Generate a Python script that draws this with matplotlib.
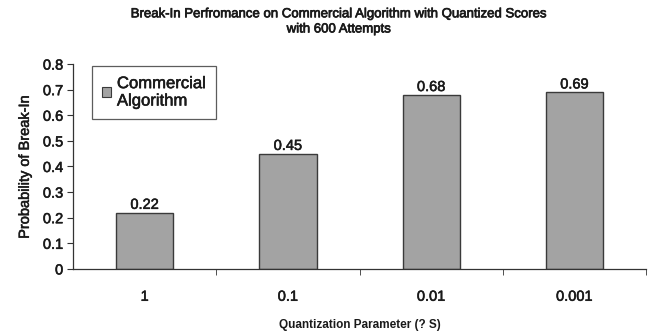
import matplotlib
matplotlib.use("Agg")
import matplotlib.pyplot as plt
import matplotlib.patheffects as pe
from matplotlib.patches import Patch
import numpy as np

categories = ["1", "0.1", "0.01", "0.001"]
values = [0.22, 0.45, 0.68, 0.69]
series_name = "Commercial\nAlgorithm"
yticks = [0, 0.1, 0.2, 0.3, 0.4, 0.5, 0.6, 0.7, 0.8]
ytick_labels = ["0", "0.1", "0.2", "0.3", "0.4", "0.5", "0.6", "0.7", "0.8"]

plt.rcParams["font.family"] = ["Liberation Sans", "DejaVu Sans"]

# slightly heavier strokes for all text
heavy = [pe.withStroke(linewidth=0.4, foreground="#1a1a1a")]
text_color = "#1a1a1a"

fig = plt.figure(figsize=(6.52, 3.32), dpi=100)
ax = fig.add_axes([0.112, 0.19, 0.879, 0.617])

x = np.arange(len(categories))
bar_color = "#a3a3a3"
edge_color = "#3a3a3a"
ax.bar(x, values, width=0.4, color=bar_color, edgecolor=edge_color, linewidth=1.0)

for xi, v in zip(x, values):
    ax.text(xi, v + 0.003, f"{v:.2f}", ha="center", va="bottom", fontsize=10.5,
            color=text_color, path_effects=heavy)

ax.set_xlim(-0.5, len(categories) - 0.5)
ax.set_ylim(0, 0.8)
ax.set_yticks(yticks)
ax.set_yticklabels(ytick_labels, fontsize=10.5, color=text_color, path_effects=heavy)
ax.set_xticks(x)
ax.set_xticklabels(categories, fontsize=10.5, color=text_color, path_effects=heavy)
ax.tick_params(axis="x", which="major", length=0, pad=15)
ax.set_xticks(np.arange(0.5, len(categories), 1.0), minor=True)
ax.tick_params(axis="x", which="minor", length=4, direction="out", color="#333333")
ax.tick_params(axis="y", length=4, direction="out", color="#333333", pad=3)

for s in ["top", "right"]:
    ax.spines[s].set_visible(False)
for s in ["left", "bottom"]:
    ax.spines[s].set_color("#333333")
    ax.spines[s].set_linewidth(0.9)

ax.set_ylabel("Probability of Break-In", fontsize=10.5, labelpad=8,
              color=text_color, path_effects=heavy)
ax.set_xlabel("Quantization Parameter (? S)", fontsize=8.5, fontweight="bold", labelpad=11,
              color=text_color)

fig.suptitle("Break-In Perfromance on Commercial Algorithm with Quantized Scores\nwith 600 Attempts",
             fontsize=9.5, y=0.975, x=0.52, linespacing=1.35, color=text_color,
             path_effects=[pe.withStroke(linewidth=0.5, foreground="#1a1a1a")])

handle = Patch(facecolor=bar_color, edgecolor=edge_color, linewidth=0.8)
leg = ax.legend([handle], [series_name], loc="upper left",
                bbox_to_anchor=(0.033, 0.99), fontsize=12, frameon=True,
                fancybox=False, handlelength=0.55, handleheight=0.55,
                handletextpad=0.35, borderpad=0.6, borderaxespad=0)
leg.get_frame().set_edgecolor("#333333")
leg.get_frame().set_linewidth(0.9)
for t in leg.get_texts():
    t.set_color(text_color)
    t.set_path_effects(heavy)

fig.savefig("out.png", dpi=100)
